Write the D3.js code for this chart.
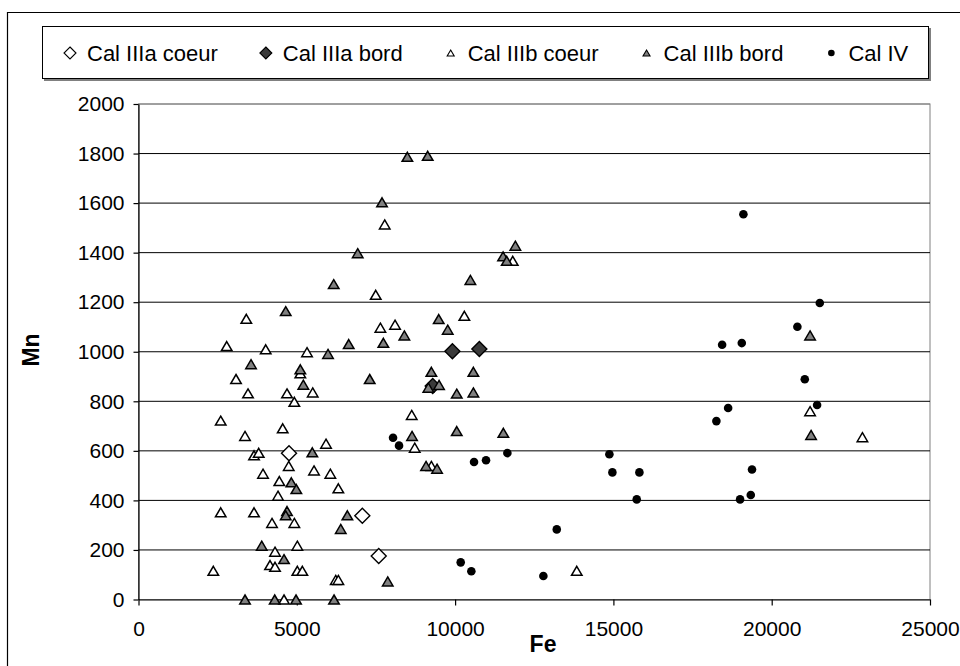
<!DOCTYPE html>
<html>
<head>
<meta charset="utf-8">
<script src="https://cdn.jsdelivr.net/npm/d3@7"></script>
<style>
  body { margin: 0; background: #fff; }
  svg { display: block; font-family: "Liberation Sans", Arial, sans-serif; }
</style>
</head>
<body>
<svg id="chart" width="960" height="666"></svg>
<script>
// Data: [Fe, Mn]
const calIIIaCoeur = [[4754, 590], [7070, 338], [7588, 176]];

const calIIIaBord = [[9915, 1002], [10766, 1011], [9293, 862]];

const calIIIbCoeur = [
  [7777, 1514], [7493, 1230], [3405, 1133], [7640, 1097], [8103, 1109], [2786, 1023],
  [4018, 1010], [5323, 998], [5111, 913], [3080, 890], [3459, 832], [4691, 832],
  [5503, 836], [4922, 798], [2597, 722], [4555, 691], [8630, 745], [3364, 660],
  [8725, 613], [5923, 629], [3649, 582], [3797, 592], [4745, 539], [3933, 508],
  [5544, 521], [6059, 508], [4448, 478], [6312, 449], [4407, 419], [2597, 352],
  [3649, 352], [4217, 309], [4922, 309], [4312, 193], [5017, 217], [4154, 139],
  [4312, 132], [2363, 116], [5017, 116], [5175, 116], [6230, 79], [6312, 79],
  [4596, 0], [10292, 1145], [11821, 1367], [9250, 539], [13843, 116], [21212, 760],
  [22865, 655]
];

const calIIIbBord = [
  [8492, 1787], [9135, 1791], [7692, 1603], [6924, 1398], [6166, 1273], [4650, 1164],
  [8397, 1066], [7734, 1036], [6640, 1031], [5986, 991], [3554, 950], [5111, 929],
  [7303, 890], [5206, 867], [9082, 539], [8640, 660], [5490, 594], [4827, 473],
  [4985, 446], [4691, 357], [4650, 340], [6597, 340], [6388, 285], [3892, 217],
  [4596, 163], [7872, 73], [3364, 0], [4302, 0], [4975, 0], [6176, 0],
  [11903, 1428], [11515, 1385], [11631, 1367], [10482, 1290], [9483, 1132], [9767, 1089],
  [9250, 919], [10577, 919], [9155, 855], [9493, 866], [10052, 831], [10577, 836],
  [10052, 680], [11524, 673], [9430, 528], [21212, 1066], [21244, 664]
];

const calIV = [
  [8040, 653], [8229, 621], [11651, 591], [10598, 555], [10977, 562], [13211, 283],
  [10177, 150], [10513, 114], [12788, 95], [19106, 1555], [21519, 1197], [20811, 1101],
  [18434, 1028], [19055, 1035], [21045, 889], [18624, 773], [21434, 785], [18253, 720],
  [14873, 586], [14968, 513], [15821, 513], [19378, 525], [15737, 404], [19001, 404],
  [19339, 422]
];

const xTickValues = [0, 5000, 10000, 15000, 20000, 25000];
const yTickValues = [0, 200, 400, 600, 800, 1000, 1200, 1400, 1600, 1800, 2000];

const series = [
  { name: 'Cal IIIa coeur', data: calIIIaCoeur, shape: 'diamond', fill: '#ffffff' },
  { name: 'Cal IIIa bord', data: calIIIaBord, shape: 'diamond', fill: '#3a3a3a' },
  { name: 'Cal IIIb coeur', data: calIIIbCoeur, shape: 'triangle', fill: '#ffffff' },
  { name: 'Cal IIIb bord', data: calIIIbBord, shape: 'triangle', fill: '#808080' },
  { name: 'Cal IV', data: calIV, shape: 'circle', fill: '#000000' }
];

const svg = d3.select('#chart');
const plot = { left: 138.5, right: 930, top: 104, bottom: 599.5 };

const x = d3.scaleLinear().domain([0, 25000]).range([plot.left, plot.right]);
const y = d3.scaleLinear().domain([0, 2000]).range([plot.bottom, plot.top]);

// marker paths centred on 0,0
function markerPath(shape, big) {
  if (shape === 'diamond') {
    const h = big ? 7.5 : 6;
    return `M0,${-h}L${h},0L0,${h}L${-h},0Z`;
  }
  const w = big ? 10.5 : 7, hh = big ? 9 : 6;
  return `M0,${-hh / 2}L${w / 2},${hh / 2}L${-w / 2},${hh / 2}Z`;
}

// outer chart border (runs off the right/bottom)
svg.append('path')
  .attr('d', 'M7.5,670V12.5H965')
  .attr('fill', 'none')
  .attr('stroke', '#000')
  .attr('stroke-width', 1.2);

// plot area
svg.append('rect')
  .attr('x', plot.left).attr('y', plot.top)
  .attr('width', plot.right - plot.left).attr('height', plot.bottom - plot.top)
  .attr('fill', '#fff')
  .attr('stroke', '#808080')
  .attr('stroke-width', 1);

// gridlines
svg.append('g')
  .selectAll('line')
  .data(yTickValues.filter(v => v > 0))
  .join('line')
  .attr('x1', plot.left).attr('x2', plot.right)
  .attr('y1', d => y(d)).attr('y2', d => y(d))
  .attr('stroke', d => d === 2000 ? '#808080' : '#000')
  .attr('stroke-width', 1);

// axes
const fmt = d3.format('d');
const yAxis = svg.append('g')
  .attr('transform', `translate(${plot.left},0)`)
  .call(d3.axisLeft(y).tickValues(yTickValues).tickSize(5).tickSizeOuter(0).tickPadding(9).tickFormat(fmt));

const xAxis = svg.append('g')
  .attr('transform', `translate(0,${plot.bottom})`)
  .call(d3.axisBottom(x).tickValues(xTickValues).tickSize(6).tickSizeOuter(0).tickPadding(16).tickFormat(fmt));

[yAxis, xAxis].forEach(g => {
  g.selectAll('path, line').attr('stroke', '#000').attr('stroke-width', 1.2);
  g.selectAll('text')
    .attr('fill', '#000')
    .style('font-size', '21px')
    .style('font-family', '"Liberation Sans", Arial, sans-serif');
});

// axis titles
svg.append('text')
  .attr('x', 543).attr('y', 652)
  .attr('text-anchor', 'middle')
  .style('font-size', '23px')
  .style('font-weight', 'bold')
  .text('Fe');

svg.append('text')
  .attr('transform', 'translate(39,350) rotate(-90)')
  .attr('text-anchor', 'middle')
  .style('font-size', '23px')
  .style('font-weight', 'bold')
  .text('Mn');

// points
const pts = svg.append('g');
series.forEach(s => {
  const g = pts.append('g').attr('class', 'series');
  if (s.shape === 'circle') {
    g.selectAll('circle')
      .data(s.data)
      .join('circle')
      .attr('cx', d => x(d[0]))
      .attr('cy', d => y(d[1]))
      .attr('r', 4.3)
      .attr('fill', s.fill);
  } else {
    g.selectAll('path')
      .data(s.data)
      .join('path')
      .attr('transform', d => `translate(${x(d[0])},${y(d[1])})`)
      .attr('d', markerPath(s.shape, true))
      .attr('fill', s.fill)
      .attr('stroke', '#000')
      .attr('stroke-width', s.shape === 'diamond' ? 1.4 : 1.5)
      .attr('stroke-linejoin', 'miter');
  }
});

// legend
const legend = svg.append('g');
legend.append('rect')
  .attr('x', 44).attr('y', 28).attr('width', 887).attr('height', 53)
  .attr('fill', '#808080');
legend.append('rect')
  .attr('x', 42.5).attr('y', 26.5).attr('width', 886).attr('height', 52)
  .attr('fill', '#fff')
  .attr('stroke', '#000')
  .attr('stroke-width', 1);

let lx = 70;
series.forEach(s => {
  const item = legend.append('g').attr('transform', `translate(${lx},53)`);
  if (s.shape === 'circle') {
    item.append('circle').attr('r', 3.3).attr('fill', s.fill);
  } else {
    item.append('path')
      .attr('d', markerPath(s.shape, false))
      .attr('fill', s.fill)
      .attr('stroke', '#000')
      .attr('stroke-width', 1.1);
  }
  const t = item.append('text')
    .attr('x', 17).attr('y', 8)
    .style('font-size', '22px')
    .attr('fill', '#000')
    .text(s.name);
  lx += 17 + t.node().getComputedTextLength() + 48;
});
</script>
</body>
</html>
